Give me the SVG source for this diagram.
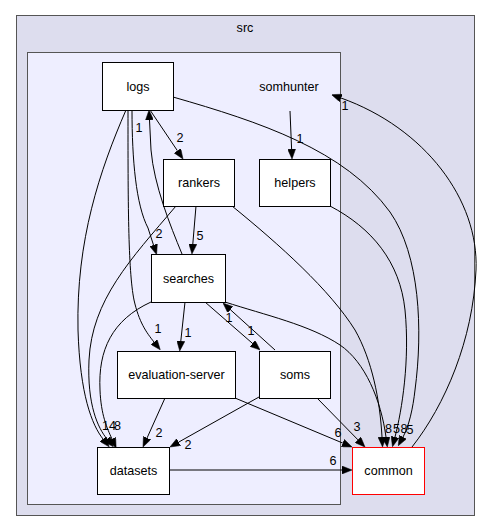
<svg xmlns="http://www.w3.org/2000/svg" width="491" height="532" viewBox="0 0 491 532">
<style>
text{font-family:"Liberation Sans",Arial,sans-serif;fill:#000}
.n{font-size:12.6px;text-anchor:middle}
.l{font-size:12.6px;text-anchor:middle}
.box{fill:#fff;stroke:#000;stroke-width:1}
.e{fill:none;stroke:#000;stroke-width:1;marker-end:url(#ah)}
</style>
<defs>
<marker id="ah" markerUnits="userSpaceOnUse" viewBox="0 0 10 8" refX="0" refY="4" markerWidth="10" markerHeight="8" orient="auto">
<path d="M0,0 L10,4 L0,8 z" fill="#000" stroke="#000" stroke-width="0.5"/>
</marker>
</defs>
<rect width="491" height="532" fill="#fff"/>
<g id="cluster-src">
<rect x="16.5" y="15.5" width="458" height="500" fill="#ddddee" stroke="#555"/>
<text class="n" x="245" y="31.5">src</text>
</g>
<g id="cluster-somhunter">
<rect x="27.5" y="52.5" width="313" height="452" fill="#eeeeff" stroke="#555"/>
<text class="n" x="289" y="90.5">somhunter</text>
</g>
<g id="edges">
<path class="e" d="M290,111 L291.6,149"/>
<path class="e" d="M150,110 L177.4,150.7"/>
<path class="e" d="M182,254 C170,225 154,185 151,150 L149.5,120"/>
<path class="e" d="M132,110 C132,160 136,205 148,228 L153.5,245"/>
<path class="e" d="M196,206 L192.8,244"/>
<path class="e" d="M128,110 C128,200 128,270 134,300 C139,322 146,332 154,342"/>
<path class="e" d="M185,302 L180.8,341"/>
<path class="e" d="M205,302 L252.5,343.4"/>
<path class="e" d="M275,350 L230.4,309.7"/>
<path class="e" d="M165,398 L147.1,437.9"/>
<path class="e" d="M259,397 L178.7,442.1"/>
<path class="e" d="M235,398 L342.8,443.1"/>
<path class="e" d="M317,398 L358,439.9"/>
<path class="e" d="M169,470 L342,470"/>
<path class="e" d="M126,110 C100,170 76,240 78,330 C80,395 92,425 103,439"/>
<path class="e" d="M176,206 C130,260 92,300 89,360 C87,405 98,428 107,439"/>
<path class="e" d="M151,302 C112,320 98,350 100,390 C101,415 107,428 112,439"/>
<path class="e" d="M232,206 C280,245 330,290 355,330 C372,360 380,400 382,437"/>
<path class="e" d="M225,302 C265,315 310,325 340,345 C365,362 381,400 386,437"/>
<path class="e" d="M330,206 C372,228 400,262 405,310 C410,360 402,410 395,437"/>
<path class="e" d="M173,97 C260,122 345,150 390,212 C420,255 423,330 415,390 C413,408 409,426 403,437"/>
<path class="e" d="M412,447 C445,405 473,340 476,270 C479,200 425,128 341,98"/>
<text class="l" x="300" y="143">1</text>
<text class="l" x="180" y="142">2</text>
<text class="l" x="139" y="132">1</text>
<text class="l" x="159" y="238">2</text>
<text class="l" x="200" y="240">5</text>
<text class="l" x="158" y="333">1</text>
<text class="l" x="188" y="337">1</text>
<text class="l" x="251" y="335">1</text>
<text class="l" x="229" y="322">1</text>
<text class="l" x="159" y="437">2</text>
<text class="l" x="188" y="449">2</text>
<text class="l" x="338" y="437">6</text>
<text class="l" x="357" y="431">3</text>
<text class="l" x="333" y="465">6</text>
<text class="l" x="345" y="110">1</text>
<text class="l" x="105.5" y="430">1</text>
<text class="l" x="112.5" y="430">4</text>
<text class="l" x="117.5" y="430">8</text>
<text class="l" x="388.5" y="433">8</text>
<text class="l" x="396.5" y="433">5</text>
<text class="l" x="404" y="433">8</text>
<text class="l" x="410" y="434">5</text>
</g>
<g id="node-logs"><rect class="box" x="102.5" y="62.5" width="71" height="48"/><text class="n" x="138" y="90.5">logs</text></g>
<g id="node-rankers"><rect class="box" x="163.5" y="159.5" width="71" height="47"/><text class="n" x="199" y="186.5">rankers</text></g>
<g id="node-helpers"><rect class="box" x="259.5" y="159.5" width="71" height="47"/><text class="n" x="295" y="186.5">helpers</text></g>
<g id="node-searches"><rect class="box" x="151.5" y="254.5" width="74" height="48"/><text class="n" x="188.5" y="282.5">searches</text></g>
<g id="node-evaluation-server"><rect class="box" x="117.5" y="351.5" width="118" height="47"/><text class="n" x="176.5" y="378.5">evaluation-server</text></g>
<g id="node-soms"><rect class="box" x="259.5" y="351.5" width="71" height="47"/><text class="n" x="295" y="378.5">soms</text></g>
<g id="node-datasets"><rect class="box" x="97.5" y="447.5" width="72" height="47"/><text class="n" x="133.5" y="474.5">datasets</text></g>
<g id="node-common"><rect class="box" x="352.5" y="447.5" width="72" height="47" style="stroke:#ff0000"/><text class="n" x="388.5" y="474.5">common</text></g>
</svg>
